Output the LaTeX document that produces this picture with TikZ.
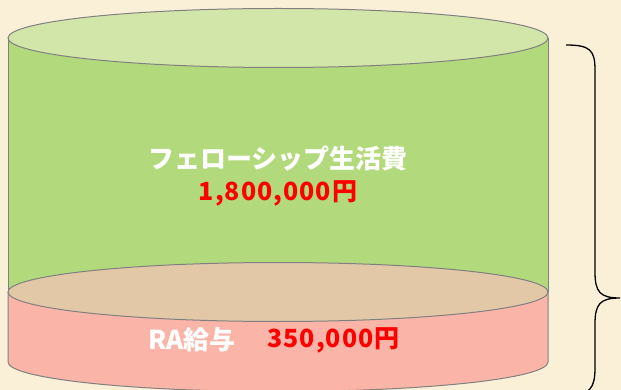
\documentclass[tikz,border=0pt]{standalone}
\usepackage{fontspec}
\newfontfamily\jpfont{Noto Sans CJK JP}
\definecolor{paper}{HTML}{FAF0D7}
\definecolor{greentop}{HTML}{D3E6AA}
\definecolor{greenside}{HTML}{B3D97D}
\definecolor{pinktop}{HTML}{E3C8A8}
\definecolor{pinkside}{HTML}{FBB5A8}
\definecolor{rim}{HTML}{808080}
\begin{document}
\begin{tikzpicture}[x=1pt,y=-1pt,rim/.style = {draw=rim, line width=1pt},itemname/.style = {text=white, font=\jpfont\bfseries\fontsize{26}{30}\selectfont},money/.style = {text=red, font=\jpfont\bfseries\fontsize{25}{30}\selectfont}] 
\useasboundingbox (0,0) rectangle (621,390);
\fill[paper] (0,0) rectangle (621,390);
% green part
\fill[greenside] (8,38) rectangle (548,292);
\draw[rim] (8,38) -- (8,292);
\draw[rim] (548,38) -- (548,292);
\draw[rim, fill=greentop] (278,38) ellipse [x radius=270pt, y radius=29.5pt];
% pink part
\draw[rim, fill=pinkside] (8,292) -- (8,362) arc [start angle=180, end angle=360, x radius=270pt, y radius=29.5pt] -- (548,292);
\draw[rim, fill=pinktop] (278,292) ellipse [x radius=270pt, y radius=29.5pt];
% labels
\node[itemname] (fs) at (278,159) {フェローシップ生活費};
\node[money] (fsamt) at (278,193) {\addfontfeature{LetterSpace=4}1,800,000円};
\node[itemname, anchor=east] (ra) at (239,340) {RA給与};
\node[money, anchor=west] (raamt) at (264,340) {\addfontfeature{LetterSpace=4}350,000円};
% brace
\draw[line width=1.3pt] (566,45) .. controls (590,45) and (595,50) .. (595,70) -- (595,272) .. controls (595,292) and (600,298) .. (620,298) .. controls (600,298) and (595,304) .. (595,324) -- (595,368) .. controls (595,388) and (590,396) .. (566,396);
\end{tikzpicture}
\end{document}
